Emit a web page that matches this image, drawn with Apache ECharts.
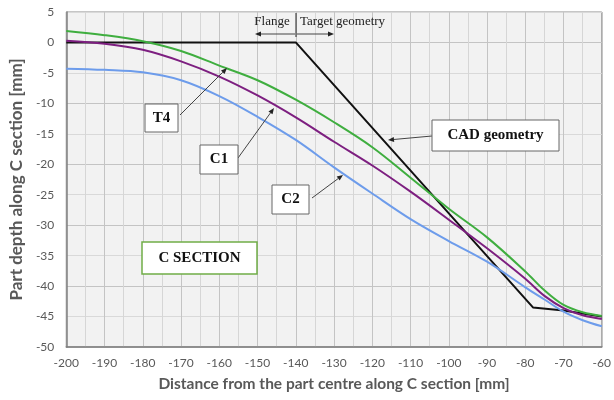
<!DOCTYPE html>
<html>
<head>
<meta charset="utf-8">
<script src="https://cdn.jsdelivr.net/npm/echarts@6/dist/echarts.min.js"></script>
<style>html,body{margin:0;padding:0;background:#fff}#c{width:614px;height:400px}</style>
</head>
<body>
<div id="c"></div>
<script>
// ---- data ----
const xs = [-200,-190,-180,-170,-160,-150,-140,-130,-120,-110,-100,-90,-80,-75,-70,-65,-60];
const t4 = [1.9,1.2,0.2,-1.4,-3.8,-6.2,-9.4,-13.1,-17.2,-22.2,-27.3,-32.0,-37.6,-40.7,-43.1,-44.3,-44.9];
const c1 = [0.3,-0.2,-1.2,-3.1,-5.6,-8.7,-12.3,-16.3,-20.2,-24.5,-29.1,-33.8,-38.8,-41.6,-43.6,-44.8,-45.4];
const c2 = [-4.3,-4.5,-4.9,-6.2,-8.8,-12.2,-16.0,-20.5,-24.8,-29.0,-32.6,-36.0,-40.2,-42.2,-44.2,-45.6,-46.6];
const cadX = [-200,-140,-78,-70,-60];
const cadY = [0,0,-43.5,-44.0,-45.0];
const xTitle = 'Distance from the part centre along C section [mm]';
const yTitle = 'Part depth along C section [mm]';

const pairs = (a, b) => a.map((v, i) => [v, b[i]]);

function arrow(x1, y1, x2, y2) {
  const ang = Math.atan2(y2 - y1, x2 - x1);
  const L = 6, W = 2.5;
  const bx = x2 - L * Math.cos(ang), by = y2 - L * Math.sin(ang);
  const px = -Math.sin(ang) * W, py = Math.cos(ang) * W;
  return [
    {type:'line', shape:{x1:x1,y1:y1,x2:bx,y2:by}, style:{stroke:'#444', lineWidth:1}, z:100},
    {type:'polygon', shape:{points:[[x2,y2],[bx+px,by+py],[bx-px,by-py]]}, style:{fill:'#222'}, z:100}
  ];
}
function box(x, y, w, h, text, stroke) {
  return [
    {type:'rect', shape:{x:x,y:y,width:w,height:h}, style:{fill:'#fff', stroke:stroke||'#666', lineWidth:stroke?1.5:1}, z:100},
    {type:'text', x:x+w/2, y:y+h/2, style:{text:text, align:'center', verticalAlign:'middle', font:'bold 15px "Liberation Serif"', fill:'#111'}, z:101}
  ];
}

const chart = echarts.init(document.getElementById('c'), null, {renderer:'canvas'});
const lbl = {color:'#595959', fontFamily:'Lato', fontSize:12};
chart.setOption({
  animation:false,
  grid:{left:63, right:7, top:12, bottom:53, show:true, backgroundColor:'#f2f2f2', borderColor:'#8c8c8c', borderWidth:1},
  xAxis:{type:'value', min:-200, max:-60, interval:10,
    name:xTitle, nameLocation:'middle', nameGap:29,
    nameTextStyle:{color:'#595959', fontFamily:'Lato', fontSize:15.5, fontWeight:'bold'},
    axisLine:{show:true, onZero:false, lineStyle:{color:'#7f7f7f', width:1.5}},
    axisTick:{show:false},
    axisLabel:Object.assign({margin:10}, lbl),
    splitLine:{show:true, lineStyle:{color:'#c4c4c4', width:1}},
    minorTick:{show:false, splitNumber:2},
    minorSplitLine:{show:true, lineStyle:{color:'#d6d6d6', width:1}}
  },
  yAxis:{type:'value', min:-50, max:5, interval:5,
    name:yTitle, nameLocation:'middle', nameGap:40,
    nameTextStyle:{color:'#595959', fontFamily:'Lato', fontSize:17, fontWeight:'bold'},
    axisLine:{show:true, onZero:false, lineStyle:{color:'#7f7f7f', width:1.5}},
    axisTick:{show:false},
    axisLabel:Object.assign({margin:12}, lbl),
    splitLine:{show:true, lineStyle:{color:['#c4c4c4','#d9d9d9'], width:1}}
  },
  series:[
    {name:'CAD geometry', type:'line', data:pairs(cadX, cadY), showSymbol:false, lineStyle:{color:'#111', width:2}, z:3},
    {name:'T4', type:'line', data:pairs(xs, t4), smooth:0.35, showSymbol:false, lineStyle:{color:'#3fae3f', width:2}, z:4},
    {name:'C1', type:'line', data:pairs(xs, c1), smooth:0.35, showSymbol:false, lineStyle:{color:'#7d1f80', width:2}, z:5},
    {name:'C2', type:'line', data:pairs(xs, c2), smooth:0.35, showSymbol:false, lineStyle:{color:'#6d9ceb', width:2}, z:4}
  ],
  graphic:[].concat(
    [{type:'line', shape:{x1:296,y1:13,x2:296,y2:37}, style:{stroke:'#222', lineWidth:1}, z:100}],
    arrow(295,34,255,34), arrow(297,34,334,34),
    [{type:'text', x:272, y:22, style:{text:'Flange', align:'center', verticalAlign:'middle', font:'13px "Liberation Serif"', fill:'#222'}, z:101},
     {type:'text', x:300, y:22, style:{text:'Target geometry', align:'left', verticalAlign:'middle', font:'13px "Liberation Serif"', fill:'#222'}, z:101}],
    arrow(180,115,227,68), box(145,104,33,28,'T4'),
    arrow(238,158,274,108), box(200,145,38,29,'C1'),
    arrow(312,198,343,175), box(272,185,37,29,'C2'),
    arrow(432,136,388,140), box(432,120,127,31,'CAD geometry'),
    box(142,242,115,32,'C SECTION','#70ad47')
  )
});
</script>
</body>
</html>
